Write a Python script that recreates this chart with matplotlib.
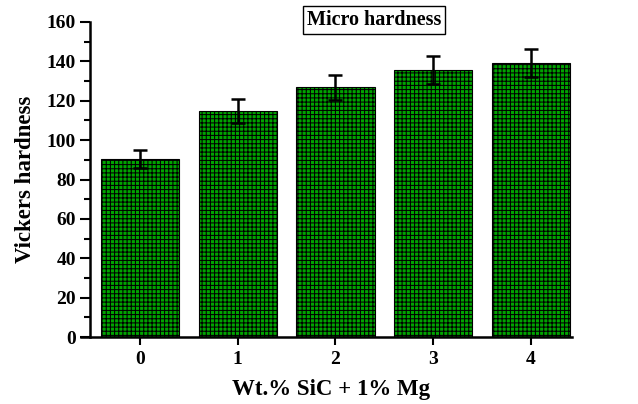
import matplotlib.pyplot as plt
import numpy as np

plt.rcParams['font.family'] = ['Liberation Serif', 'DejaVu Serif']
plt.rcParams['font.weight'] = 'bold'
plt.rcParams['hatch.color'] = 'black'
plt.rcParams['hatch.linewidth'] = 0.75

categories = ['0', '1', '2', '3', '4']
hardness = [90.5, 114.7, 126.8, 135.6, 139.2]
errors = [4.5, 6.0, 6.5, 7.0, 7.0]

fig = plt.figure(figsize=(6.38, 4.04), dpi=100)
ax = fig.add_axes([90 / 638, 1 - 337 / 404, (572 - 90) / 638, (337 - 22) / 404])

x = np.arange(len(categories))
ax.bar(x, hardness, width=0.8, color='#00a300', edgecolor='black',
       linewidth=0.8, hatch='++++')
ax.errorbar(x, hardness, yerr=errors, fmt='none', ecolor='black',
            elinewidth=1.8, capsize=5, capthick=1.8)

ax.set_xlim(-0.51, 4.42)
ax.set_ylim(0, 160)
ax.set_xticks(x)
ax.set_xticklabels(categories)
ax.set_yticks(np.arange(0, 161, 20))
ax.set_yticks(np.arange(10, 160, 20), minor=True)

for s in ['top', 'right']:
    ax.spines[s].set_visible(False)
ax.spines['left'].set_linewidth(1.8)
ax.spines['bottom'].set_linewidth(1.8)
ax.spines['bottom'].set_bounds(-0.6, 4.42)

ax.tick_params(axis='y', which='major', length=7, width=1.5, labelsize=14, pad=3)
ax.tick_params(axis='y', which='minor', length=4.5, width=1.5)
ax.tick_params(axis='x', which='major', length=6, width=1.5, labelsize=14, pad=4)
for lab in ax.get_xticklabels() + ax.get_yticklabels():
    lab.set_fontweight('bold')

ax.set_ylabel('Vickers hardness', fontsize=16.5, fontweight='bold', labelpad=8)
ax.set_xlabel('Wt.% SiC + 1% Mg', fontsize=16.5, fontweight='bold', labelpad=8)

fig.text(374 / 638, 1 - 20 / 404, 'Micro hardness', ha='center', va='center',
         fontsize=14.5, fontweight='bold',
         bbox=dict(boxstyle='square,pad=0.2', facecolor='white', edgecolor='black', linewidth=1))

fig.savefig('out.png', dpi=100)
